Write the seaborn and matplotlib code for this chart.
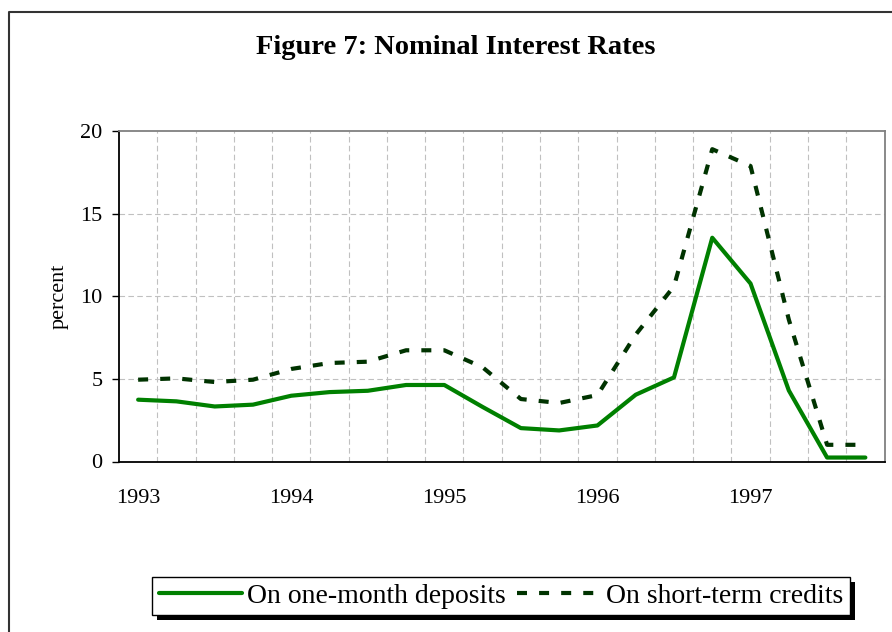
import numpy as np
import pandas as pd
import matplotlib
matplotlib.use("Agg")
import matplotlib.pyplot as plt
import seaborn as sns
from matplotlib.lines import Line2D
from matplotlib.patches import Rectangle
from matplotlib.transforms import IdentityTransform

# Quarterly data, 1993Q1 - 1997Q4
quarters = ["1993Q1", "1993Q2", "1993Q3", "1993Q4",
            "1994Q1", "1994Q2", "1994Q3", "1994Q4",
            "1995Q1", "1995Q2", "1995Q3", "1995Q4",
            "1996Q1", "1996Q2", "1996Q3", "1996Q4",
            "1997Q1", "1997Q2", "1997Q3", "1997Q4"]
deposits = [3.74, 3.64, 3.33, 3.44, 3.98, 4.20, 4.28, 4.63, 4.63, 3.30,
            2.02, 1.88, 2.18, 4.04, 5.09, 13.54, 10.77, 4.30, 0.24, 0.24]
credits = [4.95, 5.03, 4.81, 4.95, 5.60, 5.96, 6.04, 6.73, 6.73, 5.70,
           3.78, 3.54, 4.02, 7.68, 10.60, 18.90, 17.88, 8.59, 1.01, 1.01]
year_labels = ["1993", "1994", "1995", "1996", "1997"]

df = pd.DataFrame({"quarter": quarters, "deposits": deposits, "credits": credits})
df["pos"] = np.arange(len(df))

sns.set_style("white")
plt.rcParams["font.family"] = ["Liberation Serif", "DejaVu Serif"]
plt.rcParams["text.color"] = "black"
plt.rcParams["axes.labelcolor"] = "black"
plt.rcParams["xtick.color"] = "black"
plt.rcParams["ytick.color"] = "black"

fig = plt.figure(figsize=(8.92, 6.32), dpi=100)
ax = fig.add_axes([119 / 892, 1 - 461.5 / 632, (884.5 - 119) / 892, (461.5 - 131) / 632])

sns.lineplot(x="pos", y="deposits", data=df, ax=ax, color="#008000", lw=3,
             label="On one-month deposits", legend=False)
sns.lineplot(x="pos", y="credits", data=df, ax=ax, color="#003300", lw=3,
             label="On short-term credits", legend=False)
ax.lines[1].set_linestyle((0, (2.4, 2.9)))
ax.lines[1].set_dash_capstyle("butt")

ax.set_xlim(-0.5, len(df) - 0.5)
ax.set_ylim(0, 20)
ax.set_yticks([0, 5, 10, 15, 20])
ax.set_xticks(df["pos"][::4])
ax.set_xticklabels(year_labels)
ax.set_xticks(np.arange(-0.5, len(df), 1), minor=True)
ax.tick_params(axis="x", which="major", length=0, pad=20, labelsize=16)
ax.tick_params(axis="x", which="minor", length=5, width=1, direction="out")
ax.tick_params(axis="y", length=5, width=1, direction="out", pad=7, labelsize=16, left=True)
ax.set_xlabel("")
ax.set_ylabel("percent", fontsize=16, labelpad=8)

# grid: dashed grey
for v in np.arange(0.5, len(df) - 1, 1):
    ax.axvline(v, color="#c0c0c0", lw=0.8, ls=(0, (5, 3)), zorder=0)
for h in [5, 10, 15]:
    ax.axhline(h, color="#c0c0c0", lw=0.8, ls=(0, (5, 3)), zorder=0)

for s in ["left", "bottom"]:
    ax.spines[s].set_color("black")
    ax.spines[s].set_linewidth(1.3)
for s in ["top", "right"]:
    ax.spines[s].set_color("#808080")
    ax.spines[s].set_linewidth(1.3)

fig.text(456 / 892, 1 - 48 / 632, "Figure 7: Nominal Interest Rates",
         ha="center", va="center", fontsize=20.5, fontweight="bold")

# outer chart frame (left and top edges visible)
fig.add_artist(Line2D([8.5 / 892, 8.5 / 892, 1.0], [0.0, 1 - 11.7 / 632, 1 - 11.7 / 632],
                      transform=fig.transFigure, color="#333333", lw=1.5))

handles, labels = ax.get_legend_handles_labels()
leg = fig.legend(handles, labels, loc="center", bbox_to_anchor=(501 / 892, 1 - 596 / 632),
                 ncol=2, frameon=True, fancybox=False, edgecolor="black", framealpha=1,
                 fontsize=20, handlelength=3.0, handletextpad=0.2, columnspacing=0.4,
                 borderpad=0.22, borderaxespad=0)
leg.get_frame().set_linewidth(1.0)

fig.canvas.draw()
bb = leg.get_window_extent()
fig.add_artist(Rectangle((bb.x0 + 5, bb.y0 - 5), bb.width, bb.height,
                         transform=IdentityTransform(), facecolor="black",
                         edgecolor="none", zorder=4))

fig.savefig("out.png", dpi=100)
